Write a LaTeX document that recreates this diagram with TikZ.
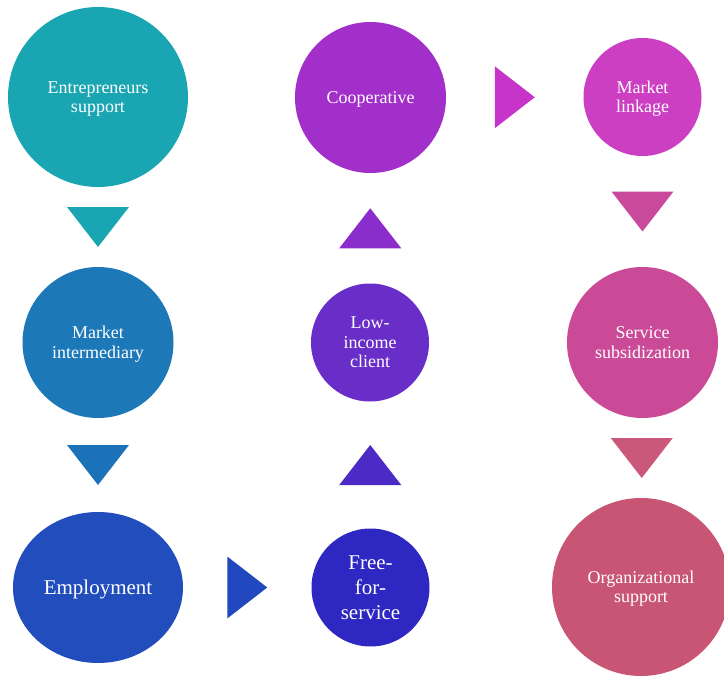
\documentclass[tikz,border=0pt]{standalone}
\usepackage{fontspec}
\setmainfont{Liberation Serif}
\usetikzlibrary{shapes.geometric,calc}
\definecolor{cEnt}{HTML}{19A5B1}
\definecolor{cMi}{HTML}{1C78B7}
\definecolor{cEmp}{HTML}{224DBD}
\definecolor{cFree}{HTML}{2E27C1}
\definecolor{cLow}{HTML}{692DC8}
\definecolor{cCoop}{HTML}{A22FCA}
\definecolor{cMl}{HTML}{CC3EC2}
\definecolor{cSub}{HTML}{CB4A97}
\definecolor{cOrg}{HTML}{C95574}
\definecolor{tMi}{HTML}{1C72B8}
\definecolor{tEmp}{HTML}{2148BE}
\definecolor{tFree}{HTML}{4C2AC6}
\definecolor{tLow}{HTML}{8A2DCB}
\definecolor{tCoop}{HTML}{C634C9}
\definecolor{tMl}{HTML}{C94A9C}
\definecolor{tSub}{HTML}{C9587A}
\begin{document}
\begin{tikzpicture}
		[x=1pt, y=1pt,
		every node/.style={inner sep=0pt, text=white, text depth=0pt, align=center, font=\fontsize{18}{19.5}\selectfont},
		bubble/.style={circle, fill=#1},
		big/.style={font=\fontsize{21}{25}\selectfont},
		pointer/.pic={\fill[pic actions, rotate=#1] (-20,-31) -- (20,0) -- (-20,31) -- cycle;}]
		\useasboundingbox (0,0) rectangle (724,-677);
		
		% left column
		\node[bubble=cEnt, minimum size=180pt] (ent) at (98,-97) {Entrepreneurs\\support};
		\node[bubble=cMi, minimum size=151pt] (mi) at (98,-342.5) {Market\\intermediary};
		\node[ellipse, fill=cEmp, minimum width=170pt, minimum height=151pt, big] (emp) at (98,-587.5) {Employment};
		
		% middle column
		\node[bubble=cFree, minimum size=118pt, big] (free) at (370.5,-587.5) {Free-\\for-\\service};
		\node[bubble=cLow, minimum size=118pt] (low) at (370,-342.5) {Low-\\income\\client};
		\node[bubble=cCoop, minimum size=151pt] (coop) at (370.5,-97.5) {Cooperative};
		
		% right column
		\node[bubble=cMl, minimum size=118pt] (ml) at (642.5,-97) {Market\\linkage};
		\node[bubble=cSub, minimum size=151pt] (sub) at (642.5,-342.5) {Service\\subsidization};
		\node[bubble=cOrg, minimum size=178pt] (org) at (641,-587) {Organizational\\support};
		
		\pic[fill=cEnt] at ($(ent.south)!0.5!(mi.north)$) {pointer=-90};
		\pic[fill=tMi] at ($(mi.south)!0.5!(emp.north)$) {pointer=-90};
		\pic[fill=tEmp] at ($(emp.east)!0.5!(free.west)$) {pointer=0};
		\pic[fill=tFree] at ($(free.north)!0.5!(low.south)$) {pointer=90};
		\pic[fill=tLow] at ($(low.north)!0.5!(coop.south)$) {pointer=90};
		\pic[fill=tCoop] at ($(coop.east)!0.5!(ml.west)$) {pointer=0};
		\pic[fill=tMl] at ($(ml.south)!0.5!(sub.north)$) {pointer=-90};
		\pic[fill=tSub] at ($(sub.south)!0.5!(org.north)$) {pointer=-90};
		\end{tikzpicture}
\end{document}
